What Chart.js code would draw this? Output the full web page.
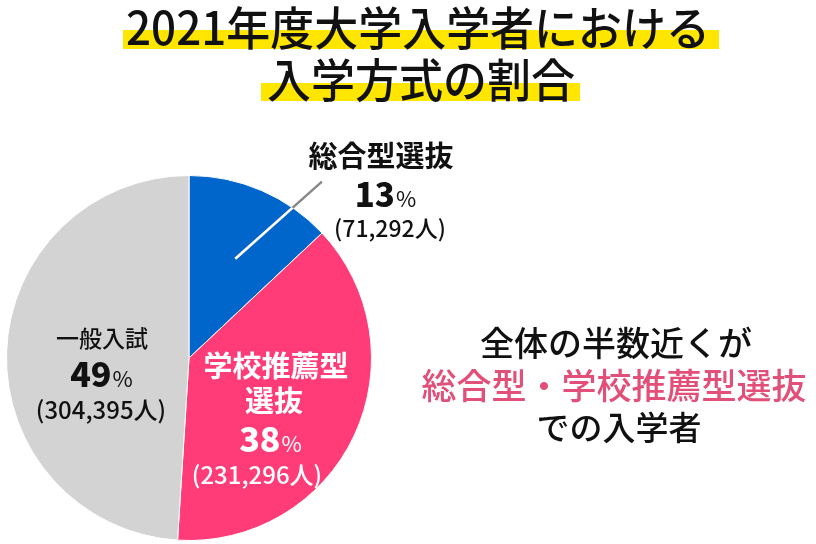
<!DOCTYPE html>
<html lang="ja">
<head>
<meta charset="utf-8">
<script src="https://cdn.jsdelivr.net/npm/chart.js@4/dist/chart.umd.min.js"></script>
<style>
  html, body { margin: 0; padding: 0; background: #fff; }
  #wrap { position: relative; width: 816px; height: 544px; }
</style>
</head>
<body>
<div id="wrap"><canvas id="pieChart"></canvas></div>
<script>
// データ
const categories = ['総合型選抜', '学校推薦型選抜', '一般入試'];
const percents = [13, 38, 49];
const counts = [71292, 231296, 304395];
const sliceColors = ['#0066cc', '#ff3c78', '#d3d3d3'];

const titleLines = ['2021年度大学入学者における', '入学方式の割合'];
const noteLines = ['全体の半数近くが', '総合型・学校推薦型選抜', 'での入学者'];

const FONT = '"Noto Sans CJK JP", "Noto Sans", sans-serif';

function fmtCount(n) {
    return '(' + n.toLocaleString('en-US') + '人)';
}

// パーセント表示 (数字は太字、% は小さめ)
function drawPercent(ctx, value, x, y, size, color) {
    const num = String(value);
    const pctSize = Math.round(size * 0.66);
    ctx.font = '900 ' + size + 'px ' + FONT;
    const w1 = ctx.measureText(num).width;
    ctx.font = pctSize + 'px ' + FONT;
    const w2 = ctx.measureText('%').width;
    const left = x - (w1 + w2) / 2;
    ctx.fillStyle = color;
    ctx.textAlign = 'left';
    ctx.textBaseline = 'alphabetic';
    ctx.font = '900 ' + size + 'px ' + FONT;
    ctx.fillText(num, left, y);
    ctx.font = pctSize + 'px ' + FONT;
    ctx.fillText('%', left + w1 + 1, y);
}

function drawText(ctx, text, x, y, font, color, maxWidth) {
    ctx.font = font;
    ctx.fillStyle = color;
    ctx.textAlign = 'center';
    ctx.textBaseline = 'middle';
    if (maxWidth) ctx.fillText(text, x, y, maxWidth);
    else ctx.fillText(text, x, y);
}

const overlayPlugin = {
    id: 'overlay',
    beforeDraw(chart) {
        const ctx = chart.ctx;
        ctx.save();
        // タイトルのマーカー
        ctx.fillStyle = '#ffe600';
        ctx.fillRect(123, 30, 596, 19);
        ctx.fillRect(261, 83, 319, 18);
        ctx.fillStyle = '#111';
        ctx.textAlign = 'left';
        ctx.textBaseline = 'alphabetic';
        ctx.font = '500 46px ' + FONT;
        ctx.fillText(titleLines[0], 126, 45, 584);
        ctx.fillText(titleLines[1], 267, 97, 308);
        ctx.restore();
    },
    afterDatasetsDraw(chart) {
        const ctx = chart.ctx;
        const arc = chart.getDatasetMeta(0).data[0];
        const cx = arc.x, cy = arc.y, R = arc.outerRadius;

        ctx.save();
        // 引き出し線
        const a1 = 25 * Math.PI / 180, a2 = 37 * Math.PI / 180;
        const p1 = [cx + Math.sin(a1) * R * 0.6, cy - Math.cos(a1) * R * 0.6];
        const p2 = [cx + Math.sin(a2) * R * 1.21, cy - Math.cos(a2) * R * 1.21];
        ctx.lineWidth = 2.5;
        ctx.strokeStyle = '#888';
        ctx.beginPath();
        ctx.moveTo(p1[0], p1[1]);
        ctx.lineTo(p2[0], p2[1]);
        ctx.stroke();
        ctx.beginPath();
        ctx.arc(cx, cy, R, 0, Math.PI * 2);
        ctx.clip();
        ctx.strokeStyle = '#fff';
        ctx.beginPath();
        ctx.moveTo(p1[0], p1[1]);
        ctx.lineTo(p2[0], p2[1]);
        ctx.stroke();
        ctx.restore();

        ctx.save();
        // 総合型選抜
        drawText(ctx, categories[0], 381, 156, 'bold 29px ' + FONT, '#111');
        drawPercent(ctx, percents[0], 385, 207, 33, '#111');
        drawText(ctx, fmtCount(counts[0]), 390, 228, '500 23px ' + FONT, '#111');

        // 学校推薦型選抜
        drawText(ctx, '学校推薦型', 276, 366, 'bold 29px ' + FONT, '#fff');
        drawText(ctx, '選抜', 274, 401, 'bold 29px ' + FONT, '#fff');
        drawPercent(ctx, percents[1], 270, 452, 34, '#fff');
        drawText(ctx, fmtCount(counts[1]), 257, 475, '500 24px ' + FONT, '#fff');

        // 一般入試
        drawText(ctx, categories[2], 102, 338, '500 23px ' + FONT, '#111');
        drawPercent(ctx, percents[2], 101, 387, 34, '#111');
        drawText(ctx, fmtCount(counts[2]), 101, 410, '500 24px ' + FONT, '#111');

        // 右側のコメント
        drawText(ctx, noteLines[0], 616, 343, '500 34px ' + FONT, '#111');
        drawText(ctx, noteLines[1], 614, 386, '500 35px ' + FONT, '#e24f78');
        drawText(ctx, noteLines[2], 619, 427, '500 33px ' + FONT, '#111');
        ctx.restore();
    }
};

new Chart(document.getElementById('pieChart').getContext('2d'), {
    type: 'pie',
    data: {
        labels: categories,
        datasets: [{
            data: percents,
            backgroundColor: sliceColors,
            borderColor: '#ffffff',
            borderWidth: 1
        }]
    },
    options: {
        responsive: true,
        maintainAspectRatio: false,
        animation: false,
        layout: { padding: { left: 6, top: 175, right: 444, bottom: 3 } },
        plugins: {
            legend: { display: false },
            tooltip: { enabled: false },
            title: { display: false }
        }
    },
    plugins: [overlayPlugin]
});
</script>
</body>
</html>
